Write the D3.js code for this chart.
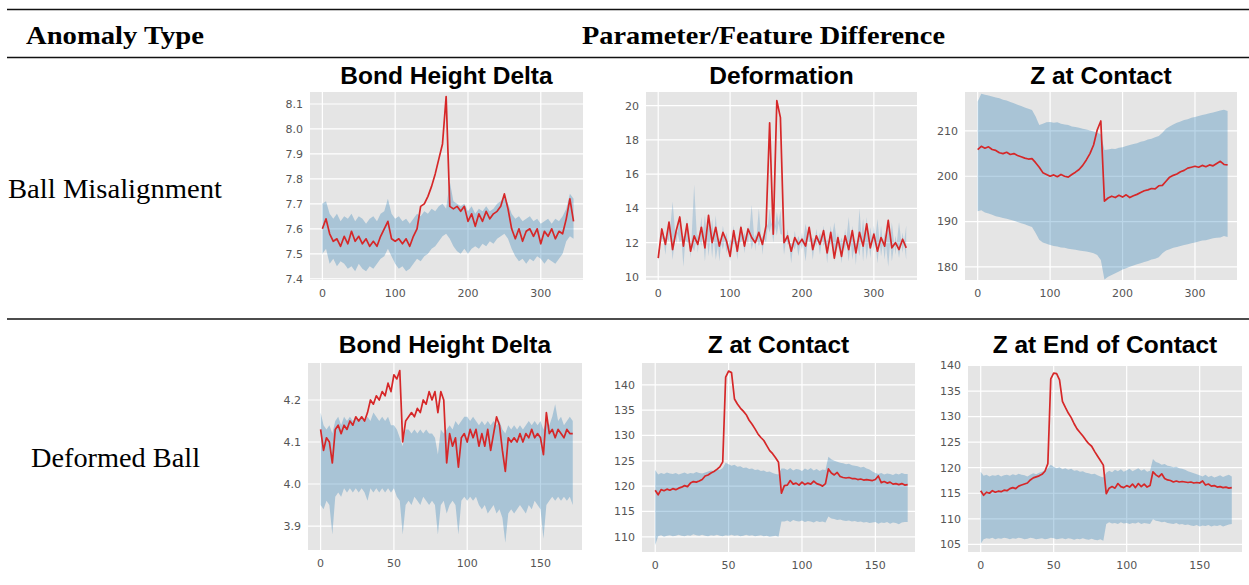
<!DOCTYPE html>
<html>
<head>
<meta charset="utf-8">
<script src="https://cdn.jsdelivr.net/npm/d3@7"></script>
<style>
  body { margin: 0; background: #fff; }
  svg { display: block; }
</style>
</head>
<body>
<div id="chart"></div>
<script>
'use strict';

// table text
const headerLabels = ['Anomaly Type', 'Parameter/Feature Difference'];
const rowLabels = ['Ball Misalignment', 'Deformed Ball'];
const panelTitles = ['Bond Height Delta', 'Deformation', 'Z at Contact',
  'Bond Height Delta', 'Z at Contact', 'Z at End of Contact'];

// sample index on x (top row every 5th sample, bottom row every 2nd)
const topX = d3.range(0, 346, 5);
const bottomX = d3.range(0, 173, 2);

// ball misalignment - bond height delta
const bhdTopRed = [
  7.60, 7.64, 7.58, 7.55, 7.56, 7.53, 7.57, 7.54, 7.59, 7.55,
  7.57, 7.54, 7.56, 7.53, 7.55, 7.53, 7.57, 7.60, 7.63, 7.56,
  7.55, 7.56, 7.54, 7.56, 7.53, 7.57, 7.60, 7.69, 7.70, 7.73,
  7.77, 7.82, 7.88, 7.94, 8.13, 7.69, 7.68, 7.69, 7.67, 7.69,
  7.63, 7.66, 7.61, 7.66, 7.63, 7.67, 7.64, 7.66, 7.67, 7.69,
  7.74, 7.68, 7.60, 7.56, 7.60, 7.55, 7.59, 7.60, 7.57, 7.60,
  7.54, 7.59, 7.57, 7.60, 7.56, 7.59, 7.58, 7.64, 7.72, 7.63];
const bhdTopUpper = [
  7.70, 7.71, 7.66, 7.64, 7.66, 7.63, 7.65, 7.64, 7.66, 7.63,
  7.65, 7.64, 7.62, 7.64, 7.65, 7.63, 7.66, 7.67, 7.72, 7.66,
  7.64, 7.65, 7.63, 7.64, 7.62, 7.64, 7.66, 7.65, 7.67, 7.66,
  7.68, 7.67, 7.69, 7.70, 7.68, 7.79, 7.71, 7.70, 7.69, 7.70,
  7.67, 7.69, 7.66, 7.68, 7.67, 7.69, 7.67, 7.68, 7.70, 7.71,
  7.73, 7.70, 7.66, 7.64, 7.65, 7.63, 7.64, 7.65, 7.63, 7.64,
  7.62, 7.63, 7.64, 7.62, 7.64, 7.63, 7.65, 7.68, 7.74, 7.72];
const bhdTopLower = [
  7.50, 7.52, 7.46, 7.48, 7.45, 7.47, 7.46, 7.44, 7.45, 7.43,
  7.46, 7.44, 7.43, 7.45, 7.44, 7.46, 7.48, 7.49, 7.52, 7.49,
  7.46, 7.44, 7.45, 7.43, 7.44, 7.46, 7.48, 7.47, 7.49, 7.50,
  7.52, 7.53, 7.55, 7.57, 7.58, 7.56, 7.53, 7.51, 7.50, 7.52,
  7.50, 7.52, 7.53, 7.52, 7.54, 7.53, 7.55, 7.54, 7.56, 7.57,
  7.58, 7.56, 7.52, 7.49, 7.47, 7.48, 7.46, 7.48, 7.47, 7.49,
  7.48, 7.46, 7.48, 7.47, 7.46, 7.48, 7.50, 7.55, 7.57, 7.56];

// ball misalignment - deformation
const deformRed = [
  11.1, 12.8, 11.9, 13.2, 11.6, 12.7, 13.5, 11.8, 13.1, 11.5,
  12.4, 11.9, 12.9, 11.7, 13.6, 12.0, 12.9, 11.8, 12.6, 12.1,
  11.2, 12.7, 11.5, 12.9, 11.8, 12.8, 12.3, 12.0, 12.6, 11.9,
  13.0, 19.0, 12.5, 20.3, 19.3, 12.0, 12.4, 11.5, 12.3, 11.9,
  12.2, 11.8, 12.9, 11.6, 12.4, 11.9, 12.7, 11.4, 12.6, 11.1,
  12.3, 11.2, 12.4, 11.6, 12.7, 11.4, 12.6, 11.8, 13.1, 11.7,
  12.5, 11.5, 12.3, 11.8, 13.3, 11.7, 12.0, 11.6, 12.2, 11.7];
const deformEdgeA = [
  11.5, 12.2, 12.3, 12.1, 14.4, 11.9, 13.6, 10.6, 13.4, 11.1,
  15.4, 11.4, 13.5, 10.9, 13.7, 11.1, 13.6, 10.9, 13.0, 11.4,
  12.2, 11.9, 12.1, 12.0, 12.6, 11.9, 14.2, 11.5, 14.0, 11.3,
  13.3, 12.6, 13.6, 12.4, 13.9, 11.3, 12.8, 10.8, 12.7, 11.2,
  12.6, 10.9, 13.0, 11.0, 12.8, 11.3, 13.0, 10.8, 13.0, 10.9,
  12.6, 10.8, 12.8, 10.9, 13.0, 10.7, 14.0, 10.9, 13.5, 11.1,
  13.0, 10.8, 13.0, 11.0, 13.4, 10.9, 12.4, 11.1, 12.6, 11.0];
const deformEdgeB = [
  10.9, 12.9, 11.3, 13.3, 11.0, 12.9, 12.0, 12.4, 12.0, 12.0,
  11.5, 12.5, 11.8, 13.6, 11.2, 13.4, 11.0, 12.3, 11.6, 12.6,
  10.9, 13.0, 11.0, 13.1, 11.4, 13.0, 11.6, 12.5, 11.8, 12.4,
  12.0, 14.0, 12.0, 13.8, 12.5, 12.4, 11.9, 12.0, 11.6, 12.4,
  11.6, 13.1, 12.0, 12.3, 11.8, 12.6, 11.8, 12.2, 11.9, 13.2,
  11.6, 12.3, 11.5, 13.5, 11.0, 12.2, 11.2, 13.4, 11.0, 12.9,
  11.5, 13.4, 11.2, 12.6, 10.6, 13.2, 11.3, 13.2, 11.4, 13.0];

// ball misalignment - z at contact
const zcTopRed = [
  205.9, 206.6, 206.2, 206.5, 205.9, 205.7, 205.2, 205.0, 205.3, 204.8,
  205.0, 204.6, 204.3, 204.0, 203.8, 203.9, 203.0, 202.0, 200.8, 200.4,
  200.0, 200.3, 199.9, 200.4, 200.0, 199.8, 200.4, 200.9, 201.5, 202.4,
  203.6, 205.0, 206.9, 210.2, 212.2, 194.5, 195.2, 195.6, 195.3, 195.8,
  195.4, 195.9, 195.3, 195.7, 196.0, 196.4, 196.8, 197.0, 197.3, 197.2,
  197.9, 198.0, 198.9, 199.8, 200.2, 200.5, 201.0, 201.3, 201.8, 202.0,
  202.2, 202.0, 202.4, 202.1, 202.5, 202.3, 202.8, 203.3, 202.6, 202.5];
const zcTopUpper = [
  216.5, 218.2, 218.0, 217.8, 217.6, 217.4, 217.2, 216.9, 216.7, 216.4,
  216.1, 215.8, 215.5, 215.2, 214.9, 214.6, 213.2, 211.3, 211.6, 211.9,
  212.0, 211.8, 211.9, 211.6, 211.4, 211.3, 211.0, 210.9, 210.7, 210.5,
  210.3, 210.1, 209.9, 209.6, 209.3, 205.8, 205.9, 206.1, 206.0, 206.3,
  206.4, 206.7, 206.9, 207.1, 207.3, 207.6, 207.8, 208.1, 208.3, 208.6,
  208.9, 209.6, 210.5, 211.0, 211.4, 211.8, 212.1, 212.4, 212.6, 212.9,
  213.1, 213.3, 213.5, 213.7, 213.9, 214.1, 214.3, 214.5, 214.7, 214.4];
const zcTopLower = [
  192.3, 192.5, 192.0, 191.8, 191.5, 191.2, 191.0, 190.8, 190.6, 190.4,
  190.2, 189.9, 189.6, 189.4, 189.1, 188.8, 187.5, 186.0, 185.4, 185.1,
  184.8, 184.6, 184.5, 184.3, 184.2, 184.0, 183.9, 183.8, 183.6, 183.5,
  183.4, 183.2, 183.0, 182.6, 181.5, 177.2, 177.8, 178.2, 178.6, 179.0,
  179.4, 179.7, 180.0, 180.3, 180.6, 180.8, 181.1, 181.3, 181.6, 181.8,
  182.1, 183.0, 183.6, 183.9, 184.2, 184.4, 184.6, 184.8, 185.0, 185.2,
  185.4, 185.6, 185.8, 185.9, 186.1, 186.3, 186.4, 186.5, 186.8, 186.6];

// deformed ball - bond height delta
const bhdBotRed = [
  4.13, 4.08, 4.11, 4.10, 4.05, 4.13, 4.14, 4.12, 4.14, 4.13,
  4.15, 4.14, 4.16, 4.15, 4.16, 4.15, 4.17, 4.20, 4.19, 4.21,
  4.20, 4.22, 4.21, 4.24, 4.22, 4.26, 4.25, 4.27, 4.10, 4.15,
  4.16, 4.17, 4.16, 4.18, 4.17, 4.20, 4.19, 4.22, 4.20, 4.22,
  4.17, 4.22, 4.20, 4.05, 4.12, 4.09, 4.11, 4.04, 4.11, 4.12,
  4.10, 4.13, 4.11, 4.13, 4.09, 4.12, 4.09, 4.13, 4.08, 4.12,
  4.16, 4.14, 4.08, 4.03, 4.11, 4.10, 4.11, 4.10, 4.12, 4.10,
  4.12, 4.11, 4.13, 4.11, 4.12, 4.11, 4.07, 4.17, 4.12, 4.13,
  4.11, 4.13, 4.12, 4.11, 4.13, 4.12, 4.12];
const bhdBotUpper = [
  4.17, 4.14, 4.13, 4.14, 4.12, 4.15, 4.16, 4.14, 4.16, 4.15,
  4.16, 4.15, 4.16, 4.15, 4.16, 4.15, 4.16, 4.15, 4.17, 4.16,
  4.15, 4.16, 4.15, 4.16, 4.14, 4.14, 4.13, 4.11, 4.09, 4.13,
  4.13, 4.12, 4.13, 4.12, 4.13, 4.12, 4.13, 4.12, 4.12, 4.11,
  4.07, 4.13, 4.12, 4.13, 4.14, 4.13, 4.15, 4.14, 4.15, 4.16,
  4.16, 4.15, 4.16, 4.15, 4.14, 4.15, 4.14, 4.15, 4.14, 4.15,
  4.14, 4.15, 4.13, 4.12, 4.14, 4.13, 4.14, 4.13, 4.14, 4.13,
  4.14, 4.15, 4.14, 4.15, 4.14, 4.15, 4.13, 4.15, 4.14, 4.16,
  4.19, 4.15, 4.16, 4.14, 4.15, 4.16, 4.15];
const bhdBotLower = [
  3.95, 3.94, 3.96, 3.95, 3.88, 3.97, 3.98, 3.97, 3.99, 3.98,
  3.99, 3.98, 3.99, 3.98, 3.99, 3.98, 3.96, 3.99, 3.98, 3.99,
  3.98, 3.99, 3.98, 3.99, 3.98, 3.99, 3.97, 3.96, 3.88, 3.95,
  3.96, 3.95, 3.97, 3.96, 3.95, 3.97, 3.96, 3.95, 3.96, 3.95,
  3.88, 3.95, 3.96, 3.93, 3.95, 3.96, 3.95, 3.88, 3.96, 3.97,
  3.96, 3.97, 3.96, 3.97, 3.95, 3.94, 3.95, 3.93, 3.94, 3.95,
  3.93, 3.94, 3.92, 3.86, 3.93, 3.94, 3.93, 3.94, 3.95, 3.94,
  3.93, 3.95, 3.94, 3.96, 3.95, 3.94, 3.87, 3.95, 3.96, 3.97,
  3.96, 3.97, 3.96, 3.97, 3.96, 3.97, 3.95];

// deformed ball - z at contact
const zcBotRed = [
  119.2, 118.3, 119.3, 119.1, 119.4, 119.2, 119.5, 119.3, 119.6, 119.8,
  120.1, 119.9, 120.6, 120.9, 120.8, 121.0, 121.3, 122.0, 122.2, 122.6,
  122.9, 123.3, 123.8, 124.8, 141.5, 142.7, 142.4, 137.2, 136.2, 135.4,
  134.8, 134.1, 133.0, 132.2, 131.3, 130.3, 129.6, 129.0, 128.0, 127.0,
  126.4, 125.6, 124.7, 118.6, 120.1, 120.2, 121.1, 120.4, 120.6, 120.2,
  120.8, 120.3, 120.6, 120.4, 121.0, 120.5, 120.3, 120.0, 120.5, 123.4,
  122.6, 122.2, 122.7, 121.9, 121.7, 121.6, 121.7, 121.5, 121.5, 121.3,
  121.4, 121.2, 121.3, 121.2, 121.1, 121.3, 122.0, 120.7, 120.9, 120.6,
  120.8, 120.4, 120.5, 120.3, 120.5, 120.2, 120.3];
const zcBotUpper = [
  123.2, 122.3, 122.6, 122.4, 122.7, 122.5, 122.4, 122.6, 122.3, 122.5,
  122.7, 122.4, 122.6, 122.5, 122.8, 122.6, 122.5, 122.7, 122.9, 123.1,
  123.0, 123.4, 123.2, 123.6, 124.6, 124.3, 124.0, 124.2, 123.8, 123.9,
  123.6, 123.7, 123.4, 123.5, 123.2, 123.3, 123.0, 123.1, 122.8, 122.9,
  122.6, 122.4, 122.3, 123.5, 123.5, 123.2, 123.6, 123.1, 123.4, 123.3,
  123.0, 123.5, 123.2, 123.6, 123.1, 123.4, 123.0, 123.3, 123.2, 125.8,
  125.3, 125.0, 124.8, 124.6, 124.5, 124.3, 124.4, 124.1, 124.0, 123.9,
  123.7, 123.8, 123.5, 123.3, 122.9, 122.6, 122.4, 122.6, 122.3, 122.5,
  122.4, 122.2, 122.5, 122.3, 122.6, 122.4, 122.4];
const zcBotLower = [
  108.4, 110.1, 110.3, 110.0, 110.2, 110.3, 110.1, 110.2, 110.4, 110.2,
  110.1, 110.3, 110.2, 110.5, 110.3, 110.2, 110.4, 110.2, 110.1, 110.3,
  110.2, 110.4, 110.2, 110.1, 110.3, 110.2, 110.4, 110.2, 110.3, 110.1,
  110.2, 110.4, 110.2, 110.3, 110.1, 110.2, 110.3, 110.1, 110.2, 110.0,
  110.1, 110.2, 110.0, 113.0, 113.0, 113.2, 112.9, 113.3, 113.1, 113.0,
  113.2, 112.9, 113.1, 113.0, 112.8, 113.1, 112.9, 113.0, 112.8, 114.0,
  113.6, 113.5, 113.3, 113.4, 113.2, 113.1, 113.2, 113.0, 113.1, 112.9,
  113.0, 112.8, 112.9, 112.7, 112.8, 112.9, 112.6, 112.8, 112.7, 112.9,
  112.6, 112.8, 112.7, 112.5, 112.8, 112.9, 112.9];

// deformed ball - z at end of contact
const zeBotRed = [
  115.5, 114.6, 115.2, 115.0, 115.5, 115.2, 115.4, 115.3, 115.6, 115.5,
  115.9, 116.1, 115.9, 116.4, 116.6, 116.8, 117.0, 117.6, 118.0, 118.2,
  118.4, 118.7, 119.3, 120.8, 137.4, 138.5, 138.4, 137.2, 133.0, 131.8,
  130.7, 129.8, 128.6, 127.6, 126.9, 126.2, 125.4, 124.7, 124.2, 123.2,
  122.3, 121.4, 120.5, 114.9, 116.0, 116.3, 116.0, 116.9, 116.3, 116.1,
  116.5, 116.2, 116.8, 116.1, 116.9, 116.3, 116.8, 116.2, 116.5, 119.2,
  118.6, 118.2, 118.8, 117.9, 117.6, 117.5, 117.2, 117.4, 117.2, 117.3,
  117.2, 117.1, 117.2, 117.0, 117.1, 117.0, 117.4, 116.6, 116.8, 116.4,
  116.5, 116.2, 116.3, 116.1, 116.2, 116.0, 116.1];
const zeBotUpper = [
  119.2, 118.4, 118.6, 118.3, 118.5, 118.4, 118.6, 118.3, 118.5, 118.6,
  118.4, 118.7, 118.5, 118.8, 118.6, 118.5, 118.3, 118.6, 118.9, 118.7,
  119.0, 119.2, 119.5, 119.9, 120.6, 120.2, 119.9, 120.1, 119.7, 119.9,
  119.6, 119.8, 119.4, 119.5, 119.2, 119.3, 119.0, 118.9, 118.7, 118.8,
  118.5, 118.3, 118.1, 119.0, 119.4, 119.1, 119.6, 119.3, 119.7, 119.2,
  119.5, 119.8, 119.3, 119.6, 119.9, 119.4, 119.7, 119.2, 119.4, 121.7,
  121.1, 120.9, 120.6, 120.7, 120.4, 120.3, 120.1, 120.2, 119.9, 119.8,
  119.6, 119.3, 119.1, 118.9, 118.7, 118.5, 118.3, 118.6, 118.2, 118.4,
  118.1, 118.3, 118.5, 118.2, 118.4, 118.6, 118.3];
const zeBotLower = [
  105.1, 106.0, 106.2, 106.1, 106.3, 106.0, 106.2, 106.1, 106.3, 106.2,
  106.0, 106.2, 106.1, 106.3, 106.2, 106.0, 106.1, 106.3, 106.2, 106.0,
  106.1, 106.2, 106.0, 106.1, 106.3, 106.2, 106.0, 106.1, 106.2, 106.0,
  106.2, 106.1, 105.9, 106.1, 106.0, 106.2, 106.0, 105.9, 106.1, 105.9,
  105.8, 106.0, 105.7, 109.0, 109.3, 109.1, 109.2, 109.0, 109.3, 109.1,
  109.2, 109.0, 109.2, 109.1, 109.3, 109.0, 109.2, 109.1, 109.0, 109.9,
  109.6, 109.5, 109.3, 109.4, 109.2, 109.1, 109.0, 109.2, 108.9, 109.0,
  108.8, 108.9, 108.7, 108.6, 108.8, 108.5, 108.7, 108.6, 108.8, 108.5,
  108.7, 108.6, 108.8, 108.5, 108.7, 108.9, 109.0];

// tick values
const topXTicks = [0, 100, 200, 300];
const bottomXTicks = [0, 50, 100, 150];
const bhdTopYTicks = [7.4, 7.5, 7.6, 7.7, 7.8, 7.9, 8.0, 8.1];
const deformYTicks = [10, 12, 14, 16, 18, 20];
const zcTopYTicks = [180, 190, 200, 210];
const bhdBotYTicks = [3.9, 4.0, 4.1, 4.2];
const zcBotYTicks = [110, 115, 120, 125, 130, 135, 140];
const zeBotYTicks = [105, 110, 115, 120, 125, 130, 135, 140];

const width = 1249;
const height = 585;

const svg = d3.select('#chart')
  .append('svg')
  .attr('width', width)
  .attr('height', height);

// table rules
[9.5, 57.5, 319].forEach(y => {
  svg.append('line')
    .attr('x1', 7).attr('x2', width)
    .attr('y1', y).attr('y2', y)
    .attr('stroke', '#111')
    .attr('stroke-width', 1.4);
});

const serif = '"Liberation Serif", "DejaVu Serif", serif';

svg.append('text')
  .attr('x', 26).attr('y', 44)
  .attr('font-family', serif).attr('font-weight', 'bold').attr('font-size', 26)
  .attr('textLength', 178).attr('lengthAdjust', 'spacingAndGlyphs')
  .text(headerLabels[0]);

svg.append('text')
  .attr('x', 582).attr('y', 44)
  .attr('font-family', serif).attr('font-weight', 'bold').attr('font-size', 26)
  .attr('textLength', 363).attr('lengthAdjust', 'spacingAndGlyphs')
  .text(headerLabels[1]);

svg.append('text')
  .attr('x', 8).attr('y', 198)
  .attr('font-family', serif).attr('font-size', 27)
  .attr('textLength', 214).attr('lengthAdjust', 'spacingAndGlyphs')
  .text(rowLabels[0]);

svg.append('text')
  .attr('x', 31).attr('y', 467)
  .attr('font-family', serif).attr('font-size', 27)
  .attr('textLength', 169).attr('lengthAdjust', 'spacingAndGlyphs')
  .text(rowLabels[1]);

// panel layout
const panels = [
  { box: [310, 583, 92, 280], titleY: 84, xs: topX, xDomain: [-17, 358], yDomain: [7.395, 8.148],
    xTicks: topXTicks, yTicks: bhdTopYTicks, fmt: '.1f',
    red: bhdTopRed, upper: bhdTopUpper, lower: bhdTopLower, bandOpacity: 0.3 },
  { box: [646, 917, 92, 280], titleY: 84, xs: topX, xDomain: [-17, 360], yDomain: [9.82, 20.8],
    xTicks: topXTicks, yTicks: deformYTicks, fmt: 'd',
    red: deformRed, upper: deformEdgeA, lower: deformEdgeB, bandOpacity: 0.22 },
  { box: [965, 1237, 92, 280], titleY: 84, xs: topX, xDomain: [-17.5, 358], yDomain: [177.1, 218.6],
    xTicks: topXTicks, yTicks: zcTopYTicks, fmt: 'd',
    red: zcTopRed, upper: zcTopUpper, lower: zcTopLower, bandOpacity: 0.3 },
  { box: [308, 582, 363, 550], titleY: 353, xs: bottomX, xDomain: [-8.6, 178.3], yDomain: [3.843, 4.288],
    xTicks: bottomXTicks, yTicks: bhdBotYTicks, fmt: '.1f',
    red: bhdBotRed, upper: bhdBotUpper, lower: bhdBotLower, bandOpacity: 0.3 },
  { box: [642, 915, 363, 552], titleY: 353, xs: bottomX, xDomain: [-9, 177], yDomain: [107, 144.3],
    xTicks: bottomXTicks, yTicks: zcBotYTicks, fmt: 'd',
    red: zcBotRed, upper: zcBotUpper, lower: zcBotLower, bandOpacity: 0.3 },
  { box: [968, 1242, 365, 552], titleY: 353, xs: bottomX, xDomain: [-8.7, 179], yDomain: [103.5, 140.1],
    xTicks: bottomXTicks, yTicks: zeBotYTicks, fmt: 'd',
    red: zeBotRed, upper: zeBotUpper, lower: zeBotLower, bandOpacity: 0.3 }
];

panels.forEach((p, k) => drawPanel(p, panelTitles[k], k));

function drawPanel(p, title, k) {
  const [left, right, top, bottom] = p.box;

  const x = d3.scaleLinear().domain(p.xDomain).range([left, right]);
  const y = d3.scaleLinear().domain(p.yDomain).range([bottom, top]);

  const g = svg.append('g');

  // clip for the plot area
  const clipId = 'clip' + k;
  svg.append('clipPath').attr('id', clipId)
    .append('rect')
    .attr('x', left).attr('y', top)
    .attr('width', right - left).attr('height', bottom - top);

  g.append('rect')
    .attr('x', left).attr('y', top)
    .attr('width', right - left).attr('height', bottom - top)
    .attr('fill', '#e5e5e5');

  // white grid
  g.selectAll('.gx')
    .data(p.xTicks)
    .enter()
    .append('line')
    .attr('x1', d => x(d)).attr('x2', d => x(d))
    .attr('y1', top).attr('y2', bottom)
    .attr('stroke', '#fff').attr('stroke-width', 1.2);

  g.selectAll('.gy')
    .data(p.yTicks)
    .enter()
    .append('line')
    .attr('x1', left).attr('x2', right)
    .attr('y1', d => y(d)).attr('y2', d => y(d))
    .attr('stroke', '#fff').attr('stroke-width', 1.2);

  const pts = p.xs.map((xv, i) => ({ x: xv, lo: p.lower[i], hi: p.upper[i], v: p.red[i] }));

  const area = d3.area()
    .x(d => x(d.x))
    .y0(d => y(d.lo))
    .y1(d => y(d.hi));

  const line = d3.line()
    .x(d => x(d.x))
    .y(d => y(d.v));

  const plot = g.append('g').attr('clip-path', `url(#${clipId})`);

  plot.append('path')
    .datum(pts)
    .attr('d', area)
    .attr('fill', '#1f77b4')
    .attr('fill-opacity', p.bandOpacity);

  plot.append('path')
    .datum(pts)
    .attr('d', line)
    .attr('fill', 'none')
    .attr('stroke', '#d62728')
    .attr('stroke-width', 1.7)
    .attr('stroke-linejoin', 'round');

  // tick labels
  const fmt = d3.format(p.fmt);
  const sans = '"DejaVu Sans", sans-serif';

  g.selectAll('.ty')
    .data(p.yTicks)
    .enter()
    .append('text')
    .attr('x', left - 7)
    .attr('y', d => y(d))
    .attr('dy', '0.35em')
    .attr('text-anchor', 'end')
    .attr('font-family', sans).attr('font-size', 11)
    .attr('fill', '#555')
    .text(fmt);

  g.selectAll('.tx')
    .data(p.xTicks)
    .enter()
    .append('text')
    .attr('x', d => x(d))
    .attr('y', bottom + 17)
    .attr('text-anchor', 'middle')
    .attr('font-family', sans).attr('font-size', 11)
    .attr('fill', '#555')
    .text(d => d);

  g.append('text')
    .attr('x', (left + right) / 2)
    .attr('y', p.titleY)
    .attr('text-anchor', 'middle')
    .attr('font-family', '"Liberation Sans", Arial, sans-serif')
    .attr('font-weight', 'bold')
    .attr('font-size', 24.5)
    .text(title);
}
</script>
</body>
</html>
